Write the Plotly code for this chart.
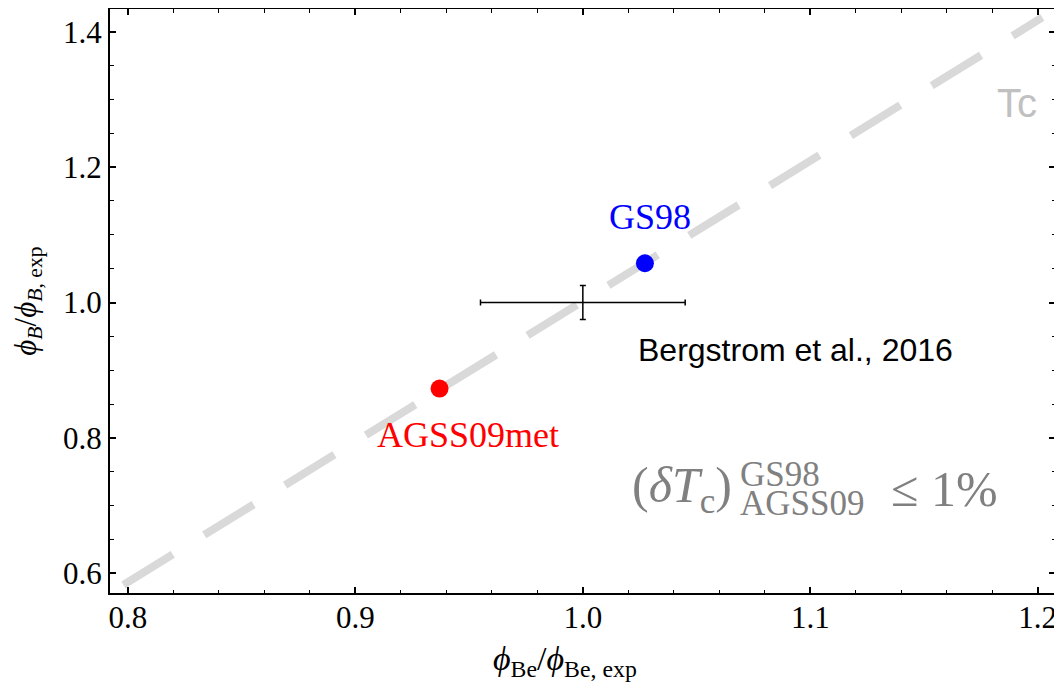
import plotly.graph_objects as go

# ---- data ----
models = ["GS98", "AGSS09met"]
model_x = [1.0273, 0.937]
model_y = [1.058, 0.873]
model_colors = ["#0000ff", "#ff0000"]

exp_label = "Bergstrom et al., 2016"
exp_x = [1.0]
exp_y = [1.0]
exp_err_x = [0.045]
exp_err_y = [0.025]

tc_x = [0.798, 1.202]
tc_y = [0.583, 1.421]

x_ticks = [0.8, 0.9, 1.0, 1.1, 1.2]
y_ticks = [0.6, 0.8, 1.0, 1.2, 1.4]

SERIF = "Liberation Serif"
SANS = "Liberation Sans"

fig = go.Figure()

fig.add_trace(go.Scatter(
    x=tc_x, y=tc_y, mode="lines",
    line=dict(color="#d9d9d9", width=8, dash="58px,37px"),
    hoverinfo="skip", showlegend=False))

fig.add_trace(go.Scatter(
    x=exp_x, y=exp_y, mode="markers",
    marker=dict(size=1, color="rgba(0,0,0,0)"),
    error_x=dict(type="data", array=exp_err_x, color="black", thickness=1.5, width=3),
    error_y=dict(type="data", array=exp_err_y, color="black", thickness=1.5, width=3),
    showlegend=False, name=exp_label))

fig.add_trace(go.Scatter(
    x=model_x, y=model_y, mode="markers",
    marker=dict(size=18, color=model_colors),
    text=models, showlegend=False))

# text labels
fig.add_annotation(x=1.0295, y=1.126, text=models[0], showarrow=False,
                   font=dict(family=SERIF, size=36, color="#0000ff"))
fig.add_annotation(x=0.9495, y=0.805, text=models[1], showarrow=False,
                   font=dict(family=SERIF, size=36, color="#ff0000"))
fig.add_annotation(x=1.0936, y=0.9295, text=exp_label, showarrow=False,
                   font=dict(family=SANS, size=32, color="black"))
fig.add_annotation(x=1.1908, y=1.2944, text="Tc", showarrow=False,
                   font=dict(family=SANS, size=40, color="#c0c0c0"))

def px2x(px):
    return 0.8 + (px - 128) / 2275.0

def py2y(py):
    return 1.0 - (py - 302.3) / 676.6

GRAY = "#808080"
fig.add_annotation(x=px2x(630), y=py2y(489), xanchor="left", yanchor="middle",
                   text="(<i>δT</i><sub>c</sub>)", showarrow=False,
                   font=dict(family=SERIF, size=50, color=GRAY))
fig.add_annotation(x=px2x(738), y=py2y(474), xanchor="left", yanchor="middle",
                   text="GS98", showarrow=False,
                   font=dict(family=SERIF, size=35, color=GRAY))
fig.add_annotation(x=px2x(738), y=py2y(503), xanchor="left", yanchor="middle",
                   text="AGSS09", showarrow=False,
                   font=dict(family=SERIF, size=35, color=GRAY))
fig.add_annotation(x=px2x(889), y=py2y(489), xanchor="left", yanchor="middle",
                   text="≤ 1%", showarrow=False,
                   font=dict(family=SERIF, size=50, color=GRAY))

# axis titles (paper coords)
fig.add_annotation(xref="paper", yref="paper", x=0.4815, y=-0.117,
                   xanchor="center", yanchor="middle", showarrow=False,
                   text="<i>ϕ</i><sub>Be</sub>/<i>ϕ</i><sub>Be, exp</sub>",
                   font=dict(family=SERIF, size=34, color="black"))
fig.add_annotation(xref="paper", yref="paper", x=-0.087, y=0.50,
                   xanchor="center", yanchor="middle", showarrow=False, textangle=-90,
                   text="<i>ϕ<sub>B</sub></i>/<i>ϕ<sub>B</sub></i><sub>, exp</sub>",
                   font=dict(family=SERIF, size=31, color="black"))

axis_common = dict(
    showline=True, linecolor="black", linewidth=2, mirror="allticks",
    ticks="inside", ticklen=6, tickwidth=1.5, tickcolor="black",
    showgrid=False, zeroline=False, automargin=False,
    tickfont=dict(family=SERIF, size=31, color="black"),
)

fig.update_xaxes(
    range=[0.7921, 1.2076], tickvals=x_ticks, ticktext=[f"{v:.1f}" for v in x_ticks],
    minor=dict(dtick=0.02, tick0=0.8, ticks="inside", ticklen=3.5, tickwidth=1.2, tickcolor="black"),
    ticklabelstandoff=-4,
    **axis_common)
fig.update_yaxes(
    range=[0.571, 1.4335], tickvals=y_ticks, ticktext=[f"{v:.1f}" for v in y_ticks],
    minor=dict(dtick=0.05, tick0=0.6, ticks="inside", ticklen=3.5, tickwidth=1.2, tickcolor="black"),
    **axis_common)

fig.update_layout(
    width=1062, height=682,
    margin=dict(l=102, r=15, t=1, b=97),
    plot_bgcolor="white", paper_bgcolor="white",
)

fig.write_html("out.html")
